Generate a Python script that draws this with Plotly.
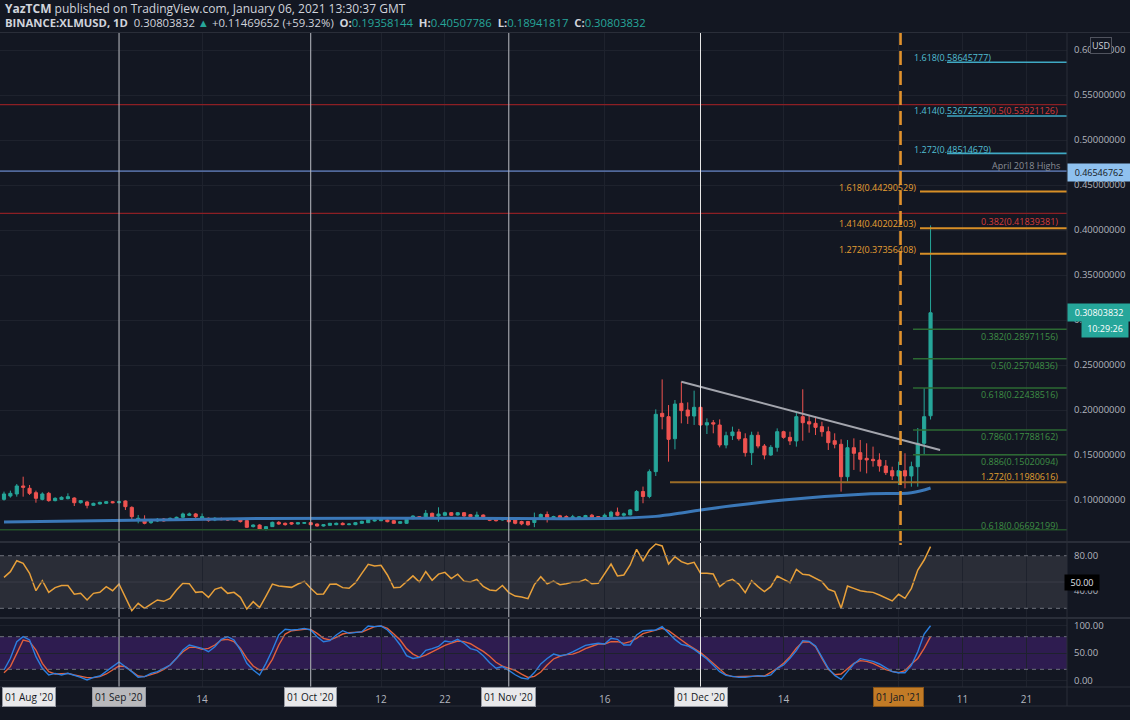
import pandas as pd
import plotly.graph_objects as go

# ---------------- data ----------------
START = "2020-08-14"

opens = [
    0.1007, 0.1044, 0.1067, 0.1156, 0.1130, 0.1081, 0.1007, 0.1074, 0.0993, 0.1007,
    0.1015, 0.1022, 0.0970, 0.0978, 0.0941, 0.0956, 0.0963, 0.0981, 0.0970, 0.0989,
    0.0918, 0.0778, 0.0785, 0.0748, 0.0767, 0.0789, 0.0778, 0.0793, 0.0808, 0.0830,
    0.0845, 0.0797, 0.0797, 0.0778, 0.0793, 0.0789, 0.0778, 0.0785, 0.0771, 0.0704,
    0.0722, 0.0674, 0.0704, 0.0752, 0.0741, 0.0748, 0.0733, 0.0741, 0.0748, 0.0733,
    0.0711, 0.0719, 0.0726, 0.0741, 0.0726, 0.0726, 0.0741, 0.0748, 0.0767, 0.0770,
    0.0778, 0.0770, 0.0741, 0.0741, 0.0793, 0.0815, 0.0793, 0.0852, 0.0822, 0.0830,
    0.0859, 0.0833, 0.0859, 0.0837, 0.0815, 0.0833, 0.0800, 0.0790, 0.0778, 0.0796,
    0.0778, 0.0761, 0.0761, 0.0750, 0.0798, 0.0839, 0.0794, 0.0824, 0.0816, 0.0798,
    0.0798, 0.0805, 0.0831, 0.0816, 0.0801, 0.0816, 0.0864, 0.0831, 0.0835, 0.0883,
    0.1094, 0.1039, 0.1315, 0.1963, 0.1926, 0.1681, 0.2074, 0.2000, 0.1933, 0.2030,
    0.1833, 0.1859, 0.1833, 0.1611, 0.1715, 0.1756, 0.1681, 0.1526, 0.1719, 0.1600,
    0.1500, 0.1585, 0.1759, 0.1696, 0.1656, 0.1926, 0.1870, 0.1852, 0.1815, 0.1759,
    0.1659, 0.1619, 0.1259, 0.1581, 0.1526, 0.1463, 0.1452, 0.1444, 0.1378, 0.1326,
    0.1267, 0.1326, 0.1267, 0.1370, 0.1630, 0.19358144,
]
highs = [
    0.1093, 0.1104, 0.1178, 0.1259, 0.1167, 0.1104, 0.1085, 0.1090, 0.1030, 0.1040,
    0.1074, 0.1030, 0.1000, 0.0990, 0.0970, 0.0981, 0.0989, 0.0989, 0.0985, 0.0996,
    0.0930, 0.0833, 0.0830, 0.0790, 0.0800, 0.0800, 0.0805, 0.0815, 0.0860, 0.0860,
    0.0856, 0.0850, 0.0805, 0.0810, 0.0805, 0.0800, 0.0800, 0.0795, 0.0780, 0.0730,
    0.0730, 0.0710, 0.0760, 0.0765, 0.0750, 0.0755, 0.0755, 0.0752, 0.0755, 0.0740,
    0.0730, 0.0745, 0.0750, 0.0752, 0.0740, 0.0755, 0.0770, 0.0795, 0.0785, 0.0790,
    0.0790, 0.0778, 0.0765, 0.0795, 0.0830, 0.0822, 0.0889, 0.0860, 0.0919, 0.0870,
    0.0866, 0.0866, 0.0866, 0.0845, 0.0870, 0.0840, 0.0810, 0.0798, 0.0805, 0.0805,
    0.0785, 0.0770, 0.0768, 0.0860, 0.0850, 0.0872, 0.0825, 0.0835, 0.0830, 0.0835,
    0.0820, 0.0835, 0.0845, 0.0822, 0.0850, 0.0880, 0.0916, 0.0860, 0.0900, 0.1110,
    0.1149, 0.1340, 0.2007, 0.2340, 0.2055, 0.2111, 0.2315, 0.2085, 0.2215, 0.2070,
    0.1907, 0.1889, 0.1896, 0.1759, 0.1815, 0.1790, 0.1741, 0.1759, 0.1759, 0.1622,
    0.1610, 0.1796, 0.1770, 0.1759, 0.1981, 0.2230, 0.1944, 0.1926, 0.1870, 0.1815,
    0.1741, 0.1674, 0.1667, 0.1685, 0.1667, 0.1630, 0.1593, 0.1519, 0.1444, 0.1370,
    0.1426, 0.1519, 0.1426, 0.1800, 0.2244, 0.40507786,
]
lows = [
    0.0993, 0.1026, 0.1037, 0.1037, 0.1056, 0.0970, 0.0996, 0.0981, 0.0985, 0.1000,
    0.1007, 0.0933, 0.0960, 0.0907, 0.0935, 0.0950, 0.0956, 0.0963, 0.0963, 0.0889,
    0.0778, 0.0741, 0.0730, 0.0735, 0.0755, 0.0760, 0.0770, 0.0785, 0.0800, 0.0822,
    0.0800, 0.0790, 0.0760, 0.0765, 0.0775, 0.0770, 0.0770, 0.0750, 0.0690, 0.0695,
    0.0665, 0.0660, 0.0700, 0.0725, 0.0715, 0.0725, 0.0728, 0.0735, 0.0720, 0.0705,
    0.0705, 0.0715, 0.0720, 0.0720, 0.0720, 0.0720, 0.0735, 0.0745, 0.0760, 0.0765,
    0.0752, 0.0735, 0.0735, 0.0735, 0.0785, 0.0790, 0.0790, 0.0800, 0.0759, 0.0825,
    0.0822, 0.0828, 0.0815, 0.0805, 0.0810, 0.0785, 0.0765, 0.0760, 0.0772, 0.0750,
    0.0730, 0.0720, 0.0715, 0.0698, 0.0790, 0.0750, 0.0785, 0.0788, 0.0795, 0.0790,
    0.0780, 0.0800, 0.0798, 0.0795, 0.0795, 0.0810, 0.0820, 0.0815, 0.0830, 0.0875,
    0.0964, 0.1020, 0.1267, 0.1785, 0.1426, 0.1563, 0.1852, 0.1845, 0.1834, 0.1830,
    0.1733, 0.1741, 0.1585, 0.1574, 0.1667, 0.1660, 0.1482, 0.1389, 0.1574, 0.1452,
    0.1490, 0.1537, 0.1680, 0.1611, 0.1593, 0.1659, 0.1748, 0.1722, 0.1704, 0.1556,
    0.1574, 0.1093, 0.1204, 0.1334, 0.1315, 0.1296, 0.1370, 0.1315, 0.1278, 0.1222,
    0.1167, 0.1130, 0.1148, 0.1148, 0.1500, 0.18941817,
]
closes = [
    0.1067, 0.1074, 0.1156, 0.1141, 0.1074, 0.1019, 0.1067, 0.0993, 0.1019, 0.1030,
    0.1037, 0.0970, 0.0993, 0.0941, 0.0963, 0.0974, 0.0981, 0.0970, 0.0981, 0.0926,
    0.0815, 0.0797, 0.0741, 0.0778, 0.0785, 0.0767, 0.0797, 0.0808, 0.0845, 0.0845,
    0.0815, 0.0815, 0.0771, 0.0797, 0.0782, 0.0778, 0.0793, 0.0760, 0.0697, 0.0722,
    0.0674, 0.0704, 0.0752, 0.0733, 0.0726, 0.0733, 0.0748, 0.0748, 0.0726, 0.0711,
    0.0726, 0.0741, 0.0741, 0.0726, 0.0733, 0.0748, 0.0763, 0.0785, 0.0778, 0.0782,
    0.0759, 0.0741, 0.0759, 0.0785, 0.0822, 0.0796, 0.0852, 0.0807, 0.0844, 0.0859,
    0.0830, 0.0859, 0.0822, 0.0815, 0.0833, 0.0796, 0.0774, 0.0770, 0.0796, 0.0759,
    0.0741, 0.0735, 0.0724, 0.0790, 0.0839, 0.0802, 0.0816, 0.0794, 0.0801, 0.0813,
    0.0813, 0.0827, 0.0805, 0.0801, 0.0831, 0.0864, 0.0831, 0.0846, 0.0890, 0.1094,
    0.1039, 0.1315, 0.1952, 0.1926, 0.1674, 0.2066, 0.1993, 0.1933, 0.2030, 0.1833,
    0.1859, 0.1844, 0.1611, 0.1715, 0.1756, 0.1681, 0.1526, 0.1719, 0.1600, 0.1500,
    0.1585, 0.1759, 0.1696, 0.1656, 0.1926, 0.1859, 0.1844, 0.1807, 0.1759, 0.1637,
    0.1619, 0.1259, 0.1581, 0.1519, 0.1452, 0.1445, 0.1437, 0.1378, 0.1304, 0.1267,
    0.1326, 0.1267, 0.1370, 0.1630, 0.1926, 0.30803832,
]

# 200-day moving average, read at a few days (day offsets from START)
ma_days = [0, 20, 40, 70, 96, 102, 106, 109, 122, 135, 142, 145]
ma_values = [0.0756, 0.0775, 0.0794, 0.0796, 0.0797, 0.0818, 0.0856, 0.0889,
             0.1000, 0.1067, 0.1081, 0.1133]

rsi = [
    55.3, 61.8, 74.3, 71.3, 59.9, 40.1, 51.5, 38.2, 43.6, 45.9,
    45.9, 36.0, 37.1, 29.5, 37.1, 38.2, 44.7, 40.1, 47.7, 33.3,
    17.3, 25.7, 20.0, 24.9, 29.5, 28.0, 31.4, 40.9, 48.5, 48.1,
    38.2, 39.0, 32.5, 41.7, 43.9, 37.1, 38.2, 32.5, 19.2, 27.6,
    20.8, 34.0, 47.7, 45.5, 44.7, 43.9, 47.7, 50.8, 42.8, 36.0,
    36.3, 47.4, 47.7, 43.6, 42.8, 49.3, 59.9, 70.2, 68.3, 69.0,
    58.0, 43.6, 43.9, 50.0, 57.0, 50.0, 62.0, 52.0, 59.0, 61.0,
    54.0, 59.0, 51.0, 50.0, 53.0, 45.0, 41.0, 40.0, 46.0, 38.0,
    34.0, 33.0, 31.0, 47.0, 56.0, 48.0, 51.0, 47.0, 48.0, 50.0,
    50.0, 53.0, 48.0, 48.5, 59.9, 70.5, 56.9, 58.0, 69.4, 87.3,
    74.3, 86.5, 93.3, 91.1, 70.5, 78.9, 73.2, 70.5, 72.4, 59.9,
    59.9, 59.1, 44.7, 50.4, 53.1, 47.7, 37.9, 51.5, 44.7, 39.0,
    44.7, 56.9, 53.1, 49.3, 64.5, 58.8, 58.0, 54.2, 50.4, 41.7,
    39.0, 20.0, 45.5, 42.8, 40.1, 39.0, 38.2, 35.2, 31.4, 28.4,
    36.0, 31.4, 42.8, 63.7, 75.1, 90.3,
]
stoch_k = [
    18.7, 40.2, 70.8, 80.0, 73.9, 43.3, 21.8, 9.6, 12.6, 9.6,
    12.6, 9.6, 5.3, 0.4, 5.3, 7.7, 15.7, 24.9, 33.4, 24.9,
    15.7, 5.3, 6.5, 12.6, 15.7, 21.8, 27.9, 40.2, 55.5, 64.7,
    61.6, 58.6, 52.4, 61.6, 75.1, 80.0, 73.9, 55.5, 31.0, 18.7,
    9.6, 31.0, 55.5, 83.1, 93.5, 92.3, 93.5, 95.3, 92.3, 80.0,
    70.8, 72.7, 83.1, 91.0, 86.1, 87.4, 89.2, 99.6, 98.4, 99.6,
    92.3, 80.0, 64.7, 45.0, 40.0, 42.0, 55.0, 58.0, 62.0, 72.0,
    70.0, 75.0, 68.0, 58.0, 55.0, 45.0, 32.0, 22.0, 25.0, 18.0,
    10.0, 4.0, 2.0, 14.0, 30.0, 40.0, 48.0, 45.0, 47.0, 52.0,
    58.0, 64.0, 66.0, 67.8, 66.5, 77.0, 75.1, 64.7, 64.7, 83.1,
    91.0, 92.3, 92.3, 98.4, 86.1, 75.1, 65.9, 62.9, 56.7, 48.2,
    39.0, 27.3, 15.7, 8.9, 7.1, 5.3, 5.3, 7.1, 8.3, 7.1,
    9.6, 21.8, 27.9, 40.2, 54.3, 72.7, 71.4, 62.9, 43.3, 21.8,
    8.9, 1.6, 15.7, 29.8, 39.6, 37.1, 34.7, 29.8, 23.0, 15.7,
    13.8, 13.8, 27.3, 52.4, 84.9, 100.0,
]
stoch_d = [
    13.8, 24.9, 49.4, 73.9, 70.8, 55.5, 31.0, 15.7, 11.4, 12.6,
    12.6, 9.6, 7.7, 4.7, 4.7, 6.5, 11.4, 18.7, 26.1, 24.9,
    15.7, 7.7, 6.5, 9.6, 13.8, 20.0, 27.9, 40.2, 52.4, 60.4,
    60.4, 56.7, 58.6, 64.7, 73.9, 75.1, 70.8, 58.6, 40.2, 26.1,
    18.7, 20.0, 38.4, 64.7, 84.9, 91.0, 92.3, 93.5, 93.5, 86.1,
    76.9, 73.9, 78.8, 84.9, 87.4, 87.4, 88.6, 93.5, 98.4, 99.6,
    95.3, 84.9, 73.9, 58.0, 48.0, 42.0, 46.0, 52.0, 58.0, 64.0,
    68.0, 72.0, 71.0, 67.0, 60.0, 53.0, 44.0, 33.0, 26.0, 22.0,
    18.0, 11.0, 5.0, 7.0, 15.0, 28.0, 39.0, 44.0, 47.0, 48.0,
    52.0, 58.0, 63.0, 66.5, 66.5, 70.8, 70.8, 67.8, 70.8, 77.0,
    85.5, 89.2, 92.3, 95.3, 91.0, 83.1, 73.9, 65.3, 58.6, 50.6,
    41.4, 31.0, 20.0, 10.2, 6.5, 6.5, 6.5, 7.7, 7.7, 7.7,
    14.4, 21.8, 31.0, 43.3, 58.6, 70.2, 70.8, 61.6, 40.2, 20.0,
    10.2, 11.4, 21.2, 31.0, 35.9, 34.7, 31.0, 24.9, 19.4, 16.3,
    13.8, 17.5, 29.8, 40.0, 58.6, 80.0,
]

price_ticks = [0.10, 0.15, 0.20, 0.25, 0.30, 0.35, 0.40, 0.45, 0.50, 0.55, 0.60]

# plain date tick labels
tick_dates = ["2020-09-14", "2020-10-12", "2020-10-22", "2020-11-16",
              "2020-12-14", "2021-01-11", "2021-01-21"]
tick_texts = ["14", "12", "22", "16", "14", "11", "21"]
# month markers (vertical lines with boxed labels)
month_dates = ["2020-09-01", "2020-10-01", "2020-11-01", "2020-12-01"]
month_texts = ["01 Sep '20", "01 Oct '20", "01 Nov '20", "01 Dec '20"]

# fibonacci / level annotations
green_levels = [0.28971156, 0.25704836, 0.22438516, 0.17788162, 0.15020094]
green_texts = ["0.382(0.28971156)", "0.5(0.25704836)", "0.618(0.22438516)",
               "0.786(0.17788162)", "0.886(0.15020094)"]
green_full_level = 0.06692199
green_full_text = "0.618(0.06692199)"
orange_levels = [0.44290529, 0.40202203, 0.37356408]
orange_texts = ["1.618(0.44290529)", "1.414(0.40202203)", "1.272(0.37356408)"]
orange_low_level = 0.11980616
orange_low_text = "1.272(0.11980616)"
cyan_levels = [0.58645777, 0.52672529, 0.48514679]
cyan_texts = ["1.618(0.58645777)", "1.414(0.52672529)", "1.272(0.48514679)"]
red_levels = [0.53921126, 0.41839381]
red_texts = ["0.5(0.53921126)", "0.382(0.41839381)"]
april_high = 0.46546762
trend_start = (106, 0.2314)
trend_end = (146.5, 0.1556)
last_price = 0.30803832

# ---------------- geometry helpers ----------------
FIG_W, FIG_H = 1130, 720
M_L, M_R, M_T, M_B = 0, 63, 33, 33
PW = FIG_W - M_L - M_R
PH = FIG_H - M_T - M_B
PX_PER_DAY = 6.39
X_FIRST = 4.0

start_ts = pd.Timestamp(START)
dates = pd.date_range(start_ts, periods=len(opens), freq="D")


def day(i):
    return start_ts + pd.Timedelta(days=i)


def xday(xpix):
    return day((xpix - X_FIRST) / PX_PER_DAY)


def px(x):
    return (x - M_L) / PW


def py(y):
    return (FIG_H - M_B - y) / PH


BG = "#131722"
GRID = "#1e222d"
AXT = "#b2b5be"
FONT = "Open Sans"

fig = go.Figure()

fig.add_trace(go.Candlestick(
    x=dates, open=opens, high=highs, low=lows, close=closes,
    increasing=dict(line=dict(color="#26a69a", width=1), fillcolor="#26a69a"),
    decreasing=dict(line=dict(color="#ef5350", width=1), fillcolor="#ef5350"),
    whiskerwidth=0, xaxis="x", yaxis="y", showlegend=False, hoverinfo="skip",
))
fig.add_trace(go.Scatter(
    x=[day(d) for d in ma_days], y=ma_values, mode="lines",
    line=dict(color="#3b78b8", width=3, shape="spline"),
    xaxis="x", yaxis="y", showlegend=False, hoverinfo="skip",
))
fig.add_trace(go.Scatter(
    x=dates, y=rsi, mode="lines", line=dict(color="#e8a03a", width=1.5),
    xaxis="x", yaxis="y2", showlegend=False, hoverinfo="skip",
))
fig.add_trace(go.Scatter(
    x=dates, y=stoch_d, mode="lines", line=dict(color="#e2603c", width=1.4),
    xaxis="x", yaxis="y3", showlegend=False, hoverinfo="skip",
))
fig.add_trace(go.Scatter(
    x=dates, y=stoch_k, mode="lines", line=dict(color="#2b7fe0", width=1.4),
    xaxis="x", yaxis="y3", showlegend=False, hoverinfo="skip",
))

shapes = []
ann = []
x_right = xday(PW)

# indicator bands
shapes.append(dict(type="rect", xref="paper", yref="y2", x0=0, x1=1, y0=20, y1=80,
                   fillcolor="#2a2d37", line=dict(width=0), layer="below"))
shapes.append(dict(type="rect", xref="paper", yref="y3", x0=0, x1=1, y0=20, y1=80,
                   fillcolor="#2e1c50", line=dict(width=0), layer="below"))
for yr in ("y2", "y3"):
    for lv in (20, 80):
        shapes.append(dict(type="line", xref="paper", yref=yr, x0=0, x1=1, y0=lv, y1=lv,
                           line=dict(color="#6f727c", width=1, dash="4px,4px")))
shapes.append(dict(type="line", xref="paper", yref="y2", x0=0, x1=1, y0=50, y1=50,
                   line=dict(color="#3a3d48", width=1)))

# full-width horizontal levels
for lv in red_levels:
    shapes.append(dict(type="line", xref="paper", yref="y", x0=0, x1=1, y0=lv, y1=lv,
                       line=dict(color="#8c1f24", width=1.2)))
shapes.append(dict(type="line", xref="paper", yref="y", x0=0, x1=1, y0=april_high, y1=april_high,
                   line=dict(color="#51689a", width=1.6)))
shapes.append(dict(type="line", xref="paper", yref="y", x0=0, x1=1,
                   y0=green_full_level, y1=green_full_level,
                   line=dict(color="#24522b", width=1.3)))

# partial levels
for lv in cyan_levels:
    shapes.append(dict(type="line", xref="x", yref="y", x0=xday(947), x1=x_right, y0=lv, y1=lv,
                       line=dict(color="#3fa9c4", width=1.6)))
for lv in orange_levels:
    shapes.append(dict(type="line", xref="x", yref="y", x0=xday(920), x1=x_right, y0=lv, y1=lv,
                       line=dict(color="#d88f27", width=2)))
shapes.append(dict(type="line", xref="x", yref="y", x0=xday(670), x1=x_right,
                   y0=orange_low_level, y1=orange_low_level,
                   line=dict(color="#9c6d27", width=2)))
for lv in green_levels:
    shapes.append(dict(type="line", xref="x", yref="y", x0=xday(913), x1=x_right, y0=lv, y1=lv,
                       line=dict(color="#2c6a33", width=1.5)))

# trend line
shapes.append(dict(type="line", xref="x", yref="y",
                   x0=day(trend_start[0]), y0=trend_start[1],
                   x1=day(trend_end[0]), y1=trend_end[1],
                   line=dict(color="#a3a5ad", width=2)))

# month vertical lines
for d in month_dates:
    col = "#e6e6e6" if d.endswith("12-01") else "#b9bbc2"
    shapes.append(dict(type="line", xref="x", yref="paper", x0=d, x1=d, y0=0, y1=1,
                       line=dict(color=col, width=1)))
# new-year dashed line
jan1 = day(140.3)
shapes.append(dict(type="line", xref="x", yref="paper", x0=jan1, x1=jan1,
                   y0=py(545), y1=1, line=dict(color="#e0912c", width=2.6, dash="14px,6px")))

# pane separators & borders
for yy in (542, 618):
    shapes.append(dict(type="line", xref="paper", yref="paper", x0=0, x1=FIG_W / PW,
                       y0=py(yy), y1=py(yy), line=dict(color="#2a2e39", width=2)))
shapes.append(dict(type="line", xref="paper", yref="paper", x0=0, x1=FIG_W / PW,
                   y0=py(687), y1=py(687), line=dict(color="#2a2e39", width=1)))
shapes.append(dict(type="line", xref="paper", yref="paper", x0=0, x1=FIG_W / PW,
                   y0=py(32.5), y1=py(32.5), line=dict(color="#2a2e39", width=1)))
shapes.append(dict(type="line", xref="paper", yref="paper", x0=1, x1=1,
                   y0=py(706), y1=py(32.5), line=dict(color="#2a2e39", width=1)))
shapes.append(dict(type="line", xref="paper", yref="paper", x0=0, x1=FIG_W / PW,
                   y0=py(706), y1=py(706), line=dict(color="#2a2e39", width=1)))


def label(text, x, y, color, anchor="left", size=9, **kw):
    d = dict(text=text, xref="paper", yref="paper", x=px(x), y=py(y), xanchor=anchor,
             yanchor="middle", showarrow=False, font=dict(size=size, color=color, family=FONT))
    d.update(kw)
    ann.append(d)


# level labels
for t, yy in zip(cyan_texts, [58, 111, 149]):
    label(t, 912, yy, "#52bfd4")
for t, yy in zip(red_texts, [111, 221]):
    label(t, 1060, yy, "#d93a3a", anchor="right")
label("April 2018 Highs", 1062, 165, "#8a8d96", anchor="right")
for t, yy in zip(orange_texts, [187, 224, 249]):
    label(t, 918, yy, "#e8a033", anchor="right")
for t, yy in zip(green_texts, [336, 365, 394, 436, 461]):
    label(t, 1060, yy, "#3f8f45", anchor="right")
label(orange_low_text, 1060, 477, "#e0a030", anchor="right")
label(green_full_text, 1060, 525, "#3f8f45", anchor="right")

# header
label("<b>YazTCM</b> published on TradingView.com, January 06, 2021 13:30:37 GMT",
      3, 8, "#d1d4dc", size=12)
TEAL = "#26a69a"
hdr = ("<b>BINANCE:XLMUSD, 1D</b>  0.30803832 <span style='color:%s'>▲</span> "
       "+0.11469652 (+59.32%%)  <b>O:</b><span style='color:%s'>0.19358144</span>  "
       "<b>H:</b><span style='color:%s'>0.40507786</span>  "
       "<b>L:</b><span style='color:%s'>0.18941817</span>  "
       "<b>C:</b><span style='color:%s'>0.30803832</span>") % (TEAL, TEAL, TEAL, TEAL, TEAL)
label(hdr, 3, 22, "#d1d4dc", size=11.3)

# price axis tags
label("USD", 1101, 45, "#d1d4dc", anchor="center", bgcolor=BG, bordercolor="#50535e",
      borderwidth=1, borderpad=1)
label("%.8f" % april_high, 1067, 172, "#131722", bgcolor="#8fc1ef", borderpad=2, width=58)
label("%.8f" % last_price, 1067, 313, "#ffffff", bgcolor=TEAL, borderpad=2, width=58)
label("10:29:26", 1129, 328.5, "#ffffff", anchor="right", bgcolor=TEAL, borderpad=2, width=42)
label("50.00", 1064, 582, "#e0e3eb", bgcolor="#000000", borderpad=1, width=32)

# boxed date labels
label("01 Aug '20", 29, 697, "#131722", anchor="center", size=10, bgcolor="#e9e9eb",
      bordercolor="#9598a1", borderwidth=1, borderpad=2)
for d, t in zip(month_dates, month_texts):
    bg = "#b9b9bc" if d == "2020-09-01" else "#e9e9eb"
    ann.append(dict(text=t, xref="x", yref="paper", x=d, y=py(697), xanchor="center",
                    yanchor="middle", showarrow=False, bgcolor=bg, bordercolor="#9598a1",
                    borderwidth=1, borderpad=2,
                    font=dict(size=10, color="#131722", family=FONT)))
ann.append(dict(text="01 Jan '21", xref="x", yref="paper", x=day(140), y=py(697),
                xanchor="center", yanchor="middle", showarrow=False, bgcolor="#c27b26",
                bordercolor="#8a5518", borderwidth=1, borderpad=2,
                font=dict(size=10, color="#131722", family=FONT)))

grid_vals = month_dates + tick_dates + ["2021-01-01"]
grid_text = [""] * len(month_dates) + tick_texts + [""]

fig.update_layout(
    width=FIG_W, height=FIG_H,
    margin=dict(l=M_L, r=M_R, t=M_T, b=M_B),
    paper_bgcolor=BG, plot_bgcolor=BG,
    font=dict(family=FONT, color=AXT, size=10),
    showlegend=False,
    shapes=shapes, annotations=ann,
    xaxis=dict(type="date", range=[xday(0), x_right], domain=[0, 1], anchor="y3",
               rangeslider=dict(visible=False), showgrid=True, gridcolor=GRID,
               tickvals=grid_vals, ticktext=grid_text, ticks="", ticklabelstandoff=5,
               tickfont=dict(size=10, color=AXT), zeroline=False, showline=False),
    yaxis=dict(domain=[py(541), 1], range=[0.1 - 41 / 900, 0.1 + 467 / 900], side="right",
               anchor="x", tickvals=price_ticks, tickformat=".8f", showgrid=True,
               gridcolor=GRID, zeroline=False, ticks="", ticklabelstandoff=6,
               tickfont=dict(size=9.5, color=AXT)),
    yaxis2=dict(domain=[py(617), py(543)], range=[10.1, 94.5], side="right", anchor="x",
                tickvals=[40, 80], ticktext=["40.00", "80.00"], showgrid=False,
                zeroline=False, ticks="", ticklabelstandoff=6, tickfont=dict(size=9.5, color=AXT)),
    yaxis3=dict(domain=[0, py(619)], range=[-12.5, 112.5], side="right", anchor="x",
                tickvals=[0, 50, 100], ticktext=["0.00", "50.00", "100.00"], showgrid=True,
                gridcolor=GRID, zeroline=False, ticks="", ticklabelstandoff=6,
                tickfont=dict(size=9.5, color=AXT)),
)

fig.write_html(
    "out.html",
    config={"displayModeBar": False},
    post_script="document.body.style.margin='0';document.body.style.overflow='hidden';",
)
